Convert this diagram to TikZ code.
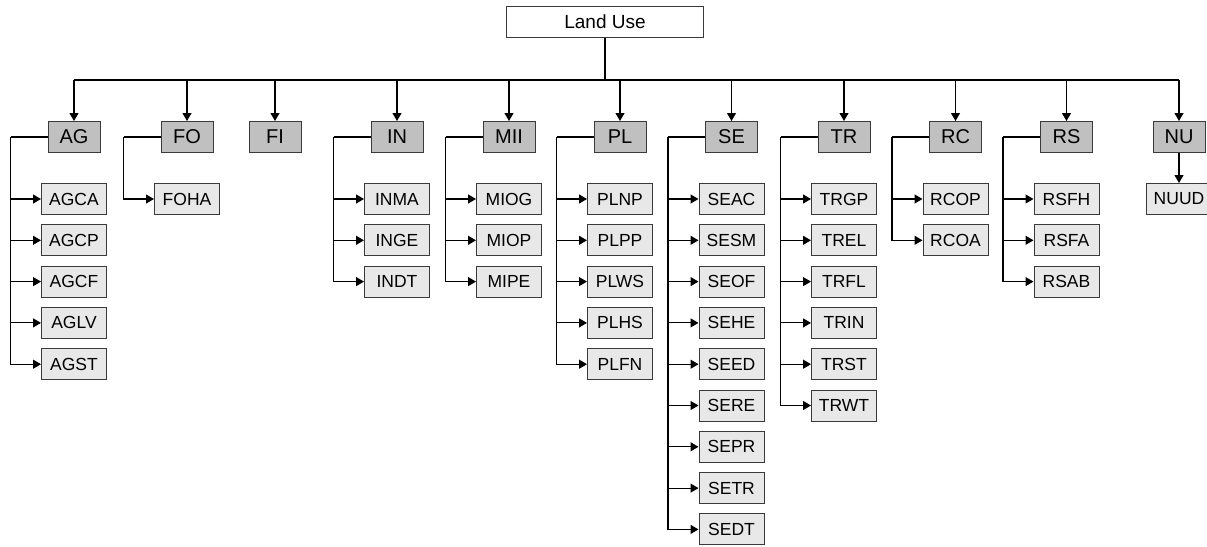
\documentclass[tikz,border=0pt]{standalone}
\usepackage{fontspec}
\setmainfont{Liberation Sans}
\usepackage{tikz}
\usetikzlibrary{arrows.meta,positioning}
\definecolor{catgray}{HTML}{C0C0C0}
\definecolor{subgray}{HTML}{E8E8E8}
\definecolor{edgegray}{HTML}{3A3A3A}
\begin{document}
\begin{tikzpicture}[
    x=1pt, y=1pt,
    rootbox/.style={
        draw=edgegray,
        fill=white,
        line width=1pt,
        minimum width=197pt,
        minimum height=31pt,
        inner sep=0pt,
        font=\fontsize{19}{21}\selectfont
    },
    catbox/.style={
        draw=edgegray,
        fill=catgray,
        line width=1pt,
        minimum width=52pt,
        minimum height=31pt,
        inner sep=0pt,
        font=\fontsize{20}{22}\selectfont
    },
    subbox/.style={
        draw=edgegray,
        fill=subgray,
        line width=1pt,
        minimum width=65pt,
        minimum height=31pt,
        inner sep=0pt,
        font=\fontsize{17.5}{19}\selectfont
    },
    busline/.style={
        black,
        line width=1.5pt
    },
    link/.style={
        black,
        line width=1.1pt
    },
    arrow/.style={
        link,
        -{Triangle[length=8pt,width=9pt]}
    }
]
\useasboundingbox (0,0) rectangle (1207,-546);
% Root
\node[rootbox] (land) at (605,-22) {Land Use};
\coordinate (bus) at (605,-80);
% Categories
\foreach \cat/\x in {AG/74, FO/187, FI/275, IN/397, MII/509, PL/620,
                     SE/731.5, TR/844, RC/955.5, RS/1066.5, NU/1179} {
    \node[catbox] (\cat) at (\x,-137) {\cat};
}
% Bus from the root
\draw[busline] (land.south) -- (bus);
\draw[busline] (AG |- bus) -- (NU |- bus);
\foreach \cat in {AG, FO, FI, IN, MII, PL, SE, TR, RC, RS, NU} {
    \draw[arrow] (\cat |- bus) -- (\cat.north);
}
% Sub-classes hanging from each category
\foreach \cat/\kids in {AG/{AGCA,AGCP,AGCF,AGLV,AGST},
                        FO/{FOHA},
                        IN/{INMA,INGE,INDT},
                        MII/{MIOG,MIOP,MIPE},
                        PL/{PLNP,PLPP,PLWS,PLHS,PLFN},
                        SE/{SEAC,SESM,SEOF,SEHE,SEED,SERE,SEPR,SETR,SEDT},
                        TR/{TRGP,TREL,TRFL,TRIN,TRST,TRWT},
                        RC/{RCOP,RCOA},
                        RS/{RSFH,RSFA,RSAB}} {
    \coordinate (\cat-trunk) at ([xshift=-37pt]\cat.west);
    \draw[link] (\cat.west) -- (\cat-trunk);
    \foreach \kid [count=\k] in \kids {
        \path (\cat) ++(0,{-62-41.3*(\k-1)}) node[subbox] (\kid) {\kid};
        \draw[arrow] (\cat-trunk) |- (\kid.west);
    }
}
% NU: single child straight below
\node[subbox] (NUUD) at (1179,-199) {NUUD};
\draw[arrow] (NU.south) -- (NUUD.north);
\end{tikzpicture}
\end{document}
